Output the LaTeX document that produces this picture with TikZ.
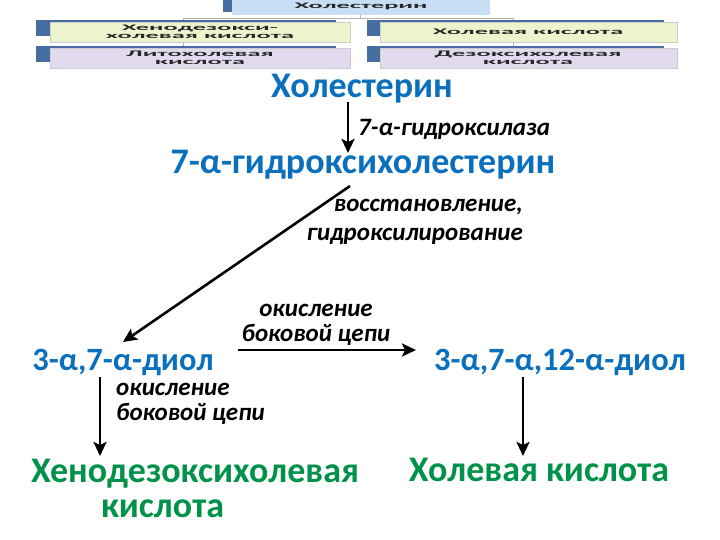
\documentclass[tikz,border=0pt]{standalone}
\usepackage{fontspec}
\setmainfont{Carlito}
\usepackage{xcolor}
\usetikzlibrary{arrows.meta}
\definecolor{chemblue}{RGB}{10,112,190}
\definecolor{chemgreen}{RGB}{0,146,72}
\definecolor{tabblue}{RGB}{70,110,160}
\definecolor{boxgreen}{RGB}{235,244,205}
\definecolor{boxlilac}{RGB}{226,218,238}
\definecolor{boxsky}{RGB}{200,222,245}

\begin{document}
\begin{tikzpicture}[x=1pt,y=-1pt,
  every node/.style={inner sep=0pt},
  acid/.style={font=\fontsize{36}{36}\selectfont\bfseries, text=chemblue},
  diol/.style={font=\fontsize{32.5}{36}\selectfont\bfseries, text=chemblue},
  final/.style={font=\fontsize{36}{35}\selectfont\bfseries, text=chemgreen},
  enzyme/.style={font=\fontsize{25}{25}\selectfont\bfseries\itshape},
  react/.style={line width=2.6pt, -{Stealth[length=14pt,width=13pt,inset=3pt]}},
  mini/.style={font=\fontsize{8.5}{8}\selectfont\bfseries, text=black!85, align=center,
    xscale=3.1, transform shape},
  link/.style={gray!60, line width=0.6pt}]
\useasboundingbox (0,0) rectangle (720,540);
% small scheme in the corner
\draw[link] (360,14) -- (360,18) (183,18) -- (513,18) (183,18) -- (183,48) (513,18) -- (513,48);
\fill[tabblue] (223,-2) rectangle (478,12);
\fill[boxsky] (232,-2) rectangle (490,15);
\node[mini] (mchol) at (361,6) {Холестерин};
\fill[tabblue] (36,20) rectangle (336,36);
\fill[boxgreen] (50,22) rectangle (350,42);
\draw[gray!40] (50,22) rectangle (350,42);
\node[mini] (mcheno) at (200,32) {Хенодезокси-\\холевая кислота};
\fill[tabblue] (36,46) rectangle (336,62);
\fill[boxlilac] (50,48) rectangle (350,68);
\draw[gray!40] (50,48) rectangle (350,68);
\node[mini] (mlitho) at (200,58) {Литохолевая\\кислота};
\fill[tabblue] (367,20) rectangle (664,36);
\fill[boxgreen] (380,22) rectangle (677,42);
\draw[gray!40] (380,22) rectangle (677,42);
\node[mini] (mcholic) at (528,32) {Холевая кислота};
\fill[tabblue] (367,46) rectangle (664,62);
\fill[boxlilac] (380,48) rectangle (677,68);
\draw[gray!40] (380,48) rectangle (677,68);
\node[mini] (mdeoxy) at (528,58) {Дезоксихолевая\\кислота};

% main pathway
\node[acid] (chol) at (362,89) {Холестерин};
\node[acid] (hchol) at (363,165) {7-α-гидроксихолестерин};
\node[diol] (diolA) at (123,362) {3-α,7-α-диол};
\node[diol] (diolB) at (560,362) {3-α,7-α,12-α-диол};
\node[final, align=left] (cheno) at (195,488) {Хенодезоксихолевая\\\hspace*{70pt}кислота};
\node[final] (cholic) at (539,470) {Холевая кислота};

\coordinate (c1) at (348,102);
\coordinate (c2) at (348,153);
\coordinate (c3) at (350,186);
\coordinate (c4) at (123,342);
\coordinate (c5) at (238,350);
\coordinate (c6) at (416,350);
\coordinate (c7) at (100,377);
\coordinate (c8) at (100,456);
\coordinate (c9) at (523,377);
\coordinate (c10) at (523,456);

\draw[react] (c1) -- (c2);
\draw[react] (c3) -- (c4);
\draw[react] (c5) -- (c6);
\draw[react] (c7) -- (c8);
\draw[react] (c9) -- (c10);

\node[enzyme, anchor=west] (l1) at (358,129) {7-α-гидроксилаза};
\node[enzyme, align=right, anchor=east] (l2) at (523,222) {восстановление,\\[4pt]гидроксилирование};
\node[enzyme, align=center] (l3) at (316,325) {окисление\\боковой цепи};
\node[enzyme, align=left, anchor=west] (l4) at (116,404) {окисление\\боковой цепи};
\end{tikzpicture}
\end{document}
